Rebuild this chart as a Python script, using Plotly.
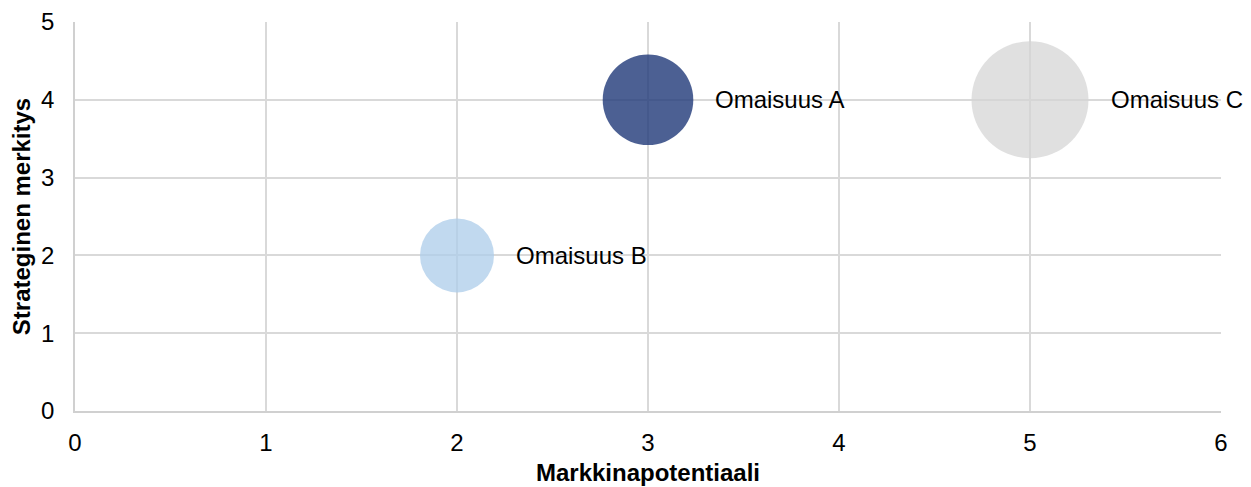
import plotly.graph_objects as go
import math

names = ["Omaisuus A", "Omaisuus B", "Omaisuus C"]
market_potential = [3, 2, 5]
strategic_importance = [4, 2, 4]
bubble_size = [30, 20, 50]
colors = ["rgba(31,56,120,0.8)", "rgba(172,204,234,0.75)", "rgba(212,212,212,0.72)"]

max_diam = 117
sizeref = 2 * max(bubble_size) / (max_diam ** 2)

fig = go.Figure()
fig.add_trace(go.Scatter(
    x=market_potential, y=strategic_importance, mode="markers",
    marker=dict(size=bubble_size, sizemode="area", sizeref=sizeref, opacity=1,
                color=colors, line=dict(width=0)),
    hoverinfo="text", text=names, showlegend=False,
))

font = "Liberation Sans, Arial, sans-serif"
for n, xv, yv, s in zip(names, market_potential, strategic_importance, bubble_size):
    r = math.sqrt(s / 2 / sizeref)
    fig.add_annotation(x=xv, y=yv, text=n, showarrow=False, xanchor="left",
                       xshift=r + 20, font=dict(size=24, color="black", family=font))

# page body has an 8px margin: size the figure so the plot area lands where it should
fig.update_layout(
    width=1243, height=479, plot_bgcolor="white", paper_bgcolor="white",
    margin=dict(l=67, r=30, t=14, b=76, autoexpand=False),
    font=dict(family=font, size=24, color="black"),
)
fig.update_xaxes(range=[0, 6], dtick=1, showgrid=True, gridcolor="#d9d9d9", gridwidth=1.5,
                 showline=True, linecolor="#d0d0d0", linewidth=1.5, mirror=False,
                 zeroline=False, ticks="outside", ticklen=9, tickcolor="rgba(0,0,0,0)",
                 automargin=False,
                 title=dict(text="<b>Markkinapotentiaali</b>", font=dict(size=24), standoff=10))
fig.update_yaxes(range=[0, 5], dtick=1, showgrid=True, gridcolor="#d9d9d9", gridwidth=1.5,
                 showline=True, linecolor="#d0d0d0", linewidth=1.5,
                 zeroline=False, ticks="outside", ticklen=14, tickcolor="rgba(0,0,0,0)",
                 automargin=False,
                 title=dict(text="<b>Strateginen merkitys</b>", font=dict(size=24), standoff=6))

fig.write_html("out.html")
